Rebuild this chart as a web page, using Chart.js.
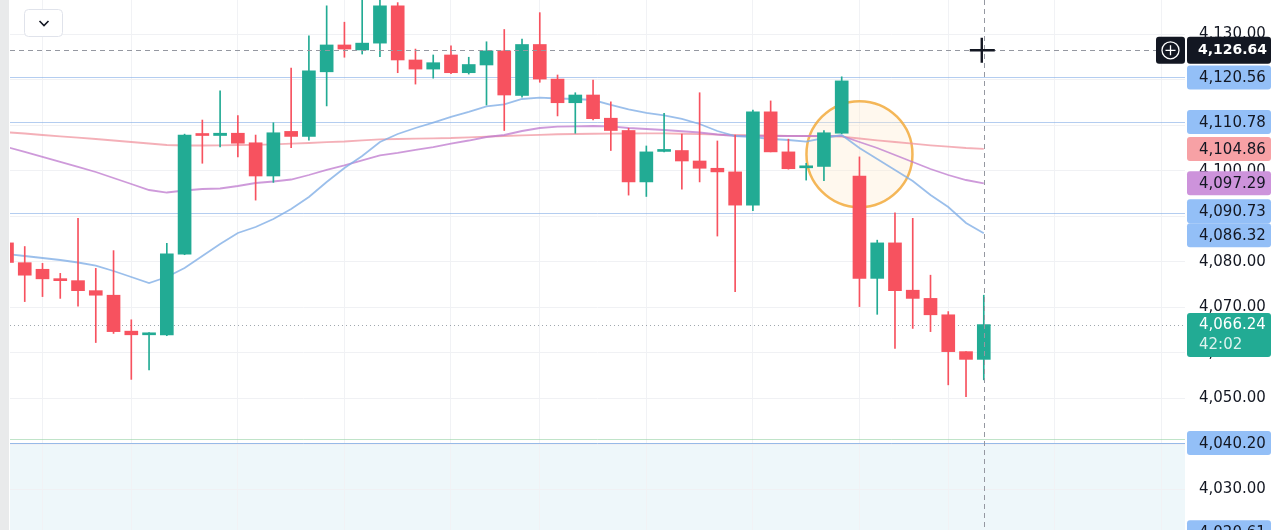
<!DOCTYPE html>
<html>
<head>
<meta charset="utf-8">
<script src="https://cdn.jsdelivr.net/npm/chart.js@4.4.1/dist/chart.umd.min.js"></script>
<style>
  html, body { margin: 0; padding: 0; background: #fff; }
  #wrap { width: 1279px; height: 530px; }
</style>
</head>
<body>
<div id="wrap"><canvas id="grafico" width="1279" height="530"></canvas></div>
<script>
// OHLC, one entry per candle (oldest first)
const opens  = [4084.2, 4079.85, 4078.4, 4076.3, 4075.9, 4073.7, 4072.7, 4064.8, 4064.0, 4064.0,
                4081.7, 4108.0, 4107.8, 4108.3, 4106.2, 4098.9, 4108.7, 4107.6, 4121.8, 4127.7,
                4126.6, 4128.1, 4136.3, 4124.4, 4122.4, 4125.5, 4121.6, 4123.3, 4126.4, 4116.6,
                4127.8, 4120.2, 4115.0, 4116.7, 4111.6, 4108.9, 4097.6, 4104.3, 4104.5, 4102.2,
                4100.6, 4099.8, 4092.5, 4113.0, 4104.2, 4100.7, 4101.0, 4108.3, 4098.9, 4076.4,
                4084.2, 4073.8, 4072.0, 4068.4, 4060.3, 4058.6];
const highs  = [4085.0, 4083.4, 4079.7, 4077.5, 4089.6, 4078.6, 4082.5, 4067.3, 4064.5, 4084.1,
                4108.1, 4111.2, 4117.6, 4112.2, 4107.9, 4110.6, 4122.6, 4129.7, 4136.3, 4132.7,
                4139.5, 4139.5, 4137.0, 4126.8, 4125.5, 4127.5, 4125.0, 4128.4, 4131.1, 4129.0,
                4134.8, 4121.1, 4117.2, 4120.0, 4115.2, 4109.4, 4105.5, 4112.7, 4108.1, 4117.2,
                4106.6, 4107.9, 4113.4, 4115.4, 4107.0, 4101.7, 4108.9, 4120.7, 4103.1, 4084.8,
                4090.8, 4089.6, 4077.1, 4069.1, 4060.3, 4072.7];
const lows   = [4079.5, 4071.3, 4072.4, 4072.0, 4070.3, 4062.3, 4064.3, 4054.2, 4056.3, 4063.8,
                4081.6, 4101.7, 4105.3, 4103.1, 4093.6, 4097.5, 4105.1, 4106.8, 4114.3, 4125.0,
                4125.7, 4125.1, 4121.6, 4119.1, 4120.4, 4121.4, 4121.3, 4114.5, 4108.9, 4116.2,
                4119.5, 4112.1, 4108.3, 4111.2, 4104.5, 4094.7, 4094.4, 4104.2, 4096.0, 4097.6,
                4085.7, 4073.5, 4091.3, 4104.2, 4100.4, 4098.0, 4097.9, 4108.2, 4070.2, 4068.5,
                4061.0, 4065.4, 4064.7, 4053.0, 4050.4, 4054.1];
const closes = [4079.9, 4077.1, 4076.3, 4075.9, 4073.7, 4072.7, 4064.7, 4064.0, 4064.2, 4081.8,
                4107.9, 4107.8, 4108.3, 4106.1, 4098.9, 4108.4, 4107.6, 4122.0, 4127.7, 4126.8,
                4128.1, 4136.3, 4124.4, 4122.4, 4123.8, 4121.6, 4123.4, 4126.4, 4116.7, 4127.8,
                4120.2, 4115.0, 4116.7, 4111.5, 4108.9, 4097.6, 4104.2, 4104.4, 4102.2, 4100.6,
                4099.8, 4092.5, 4113.0, 4104.2, 4100.5, 4101.0, 4108.4, 4119.8, 4076.4, 4084.2,
                4073.7, 4072.0, 4068.4, 4060.3, 4058.6, 4066.24];

// moving averages
const maFast = [4081.76, 4081.32, 4080.88, 4080.44, 4079.89, 4079.19, 4078.02, 4076.70, 4075.38, 4076.70,
                4078.68, 4081.32, 4083.96, 4086.37, 4087.69, 4089.45, 4091.65, 4094.29, 4097.58, 4100.66,
                4103.30, 4106.37, 4108.13, 4109.45, 4110.62, 4111.87, 4112.97, 4114.18, 4114.62, 4115.82,
                4116.11, 4115.93, 4115.82, 4115.60, 4114.51, 4113.52, 4112.75, 4112.20, 4111.43, 4110.33,
                4108.79, 4107.69, 4107.47, 4107.03, 4106.81, 4106.44, 4107.25, 4107.91, 4105.05, 4102.64,
                4100.22, 4097.80, 4094.73, 4092.09, 4088.57, 4086.32];
const maMid  = [4105.27, 4104.18, 4103.08, 4101.98, 4100.88, 4099.78, 4098.46, 4097.14, 4095.82, 4095.27,
                4095.71, 4096.04, 4096.15, 4096.70, 4097.36, 4097.69, 4098.13, 4099.12, 4100.22, 4101.21,
                4102.31, 4103.41, 4103.96, 4104.62, 4105.27, 4106.04, 4106.70, 4107.47, 4107.91, 4108.79,
                4109.45, 4109.74, 4109.82, 4109.89, 4109.82, 4109.45, 4109.23, 4109.01, 4108.73, 4108.46,
                4108.02, 4107.69, 4107.69, 4107.69, 4107.69, 4107.69, 4107.69, 4107.69, 4106.37, 4105.05,
                4103.52, 4101.98, 4100.44, 4099.12, 4098.02, 4097.29];
const maSlow = [4108.51, 4108.24, 4107.91, 4107.63, 4107.34, 4107.03, 4106.70, 4106.37, 4106.04, 4105.71,
                4105.60, 4105.60, 4105.65, 4105.71, 4105.76, 4105.87, 4106.02, 4106.15, 4106.33, 4106.48,
                4106.75, 4106.97, 4107.03, 4107.10, 4107.19, 4107.25, 4107.41, 4107.54, 4107.69, 4107.85,
                4107.96, 4108.07, 4108.13, 4108.18, 4108.22, 4108.24, 4108.26, 4108.26, 4108.18, 4108.09,
                4108.00, 4107.91, 4107.87, 4107.80, 4107.74, 4107.67, 4107.60, 4107.54, 4107.14, 4106.75,
                4106.37, 4106.00, 4105.65, 4105.34, 4105.05, 4104.86];

// horizontal levels drawn on the chart
const levelValues = [4120.56, 4110.78, 4090.73, 4041.0, 4040.20];
const levelColors = ['rgba(130,172,230,0.6)', 'rgba(130,172,230,0.6)', 'rgba(130,172,230,0.6)',
                     'rgba(150,210,165,0.6)', 'rgba(120,165,225,0.75)'];
const zoneTop = 4040.20;

// price tags on the right scale
const tagValues = [4120.56, 4110.78, 4104.86, 4097.29, 4090.73, 4086.32, 4040.20, 4020.61];
const tagColors = ['#93bff7', '#93bff7', '#f7a1a5', '#cd93db', '#93bff7', '#93bff7', '#93bff7', '#93bff7'];
const lastPrice = 4066.24;
const countdown = '42:02';
const crossPrice = 4126.64;
const crossIndex = 55;

// time grid (candle index of each vertical grid line) and price ticks
const timeGrid = [2, 7, 13, 19, 25, 30, 36, 42, 48, 53, 59, 65];
const priceTicks = [4030, 4040, 4050, 4060, 4070, 4080, 4090, 4100, 4110, 4120, 4130];

const circleAt = { index: 48, price: 4103.7 };

const up = '#22ab94';
const down = '#f7525f';
const fonte = '"DejaVu Sans", sans-serif';

const fmt = v => v.toLocaleString('en-US', { minimumFractionDigits: 2, maximumFractionDigits: 2 });

function caixa(ctx, x, y, w, h, r) {
    ctx.beginPath();
    ctx.moveTo(x + r, y);
    ctx.arcTo(x + w, y, x + w, y + h, r);
    ctx.arcTo(x + w, y + h, x, y + h, r);
    ctx.arcTo(x, y + h, x, y, r);
    ctx.arcTo(x, y, x + w, y, r);
    ctx.closePath();
}

const extras = {
    id: 'extras',
    beforeDraw(chart) {
        const { ctx, chartArea: a, scales: { y } } = chart;
        const yz = y.getPixelForValue(zoneTop);
        ctx.save();
        ctx.fillStyle = '#eef7fa';
        ctx.fillRect(a.left, yz, a.right - a.left, a.bottom - yz);
        ctx.restore();
    },
    beforeDatasetsDraw(chart) {
        const { ctx, chartArea: a, scales: { x, y } } = chart;
        ctx.save();
        ctx.lineWidth = 1;
        levelValues.forEach((v, k) => {
            const py = Math.round(y.getPixelForValue(v)) + 0.5;
            ctx.strokeStyle = levelColors[k];
            ctx.beginPath();
            ctx.moveTo(a.left, py);
            ctx.lineTo(a.right, py);
            ctx.stroke();
        });
        // last price dotted line
        const pl = Math.round(y.getPixelForValue(lastPrice)) + 0.5;
        ctx.strokeStyle = 'rgba(120,130,140,0.7)';
        ctx.setLineDash([1, 3]);
        ctx.beginPath();
        ctx.moveTo(a.left, pl);
        ctx.lineTo(a.right, pl);
        ctx.stroke();
        ctx.setLineDash([]);
        // highlighted circle
        const cx = x.getPixelForValue(circleAt.index);
        const cy = y.getPixelForValue(circleAt.price);
        ctx.beginPath();
        ctx.arc(cx, cy, 53, 0, Math.PI * 2);
        ctx.fillStyle = 'rgba(255,236,205,0.35)';
        ctx.fill();
        ctx.lineWidth = 2.5;
        ctx.strokeStyle = 'rgba(242,170,60,0.85)';
        ctx.stroke();
        ctx.restore();
    },
    afterDatasetsDraw(chart) {
        const { ctx, chartArea: a, scales: { x, y } } = chart;
        const px = Math.round(x.getPixelForValue(crossIndex)) + 0.5;
        const py = Math.round(y.getPixelForValue(crossPrice)) + 0.5;
        ctx.save();
        ctx.strokeStyle = '#9598a1';
        ctx.lineWidth = 1;
        ctx.setLineDash([5, 4]);
        ctx.beginPath();
        ctx.moveTo(a.left, py);
        ctx.lineTo(a.right, py);
        ctx.moveTo(px, a.top);
        ctx.lineTo(px, a.bottom);
        ctx.stroke();
        ctx.restore();
    },
    afterDraw(chart) {
        const { ctx, chartArea: a, scales: { x, y } } = chart;
        ctx.save();
        // left panel edge
        ctx.fillStyle = '#e9eaeb';
        ctx.fillRect(0, 0, 9, chart.height);

        // collapse button top left
        caixa(ctx, 24.5, 9.5, 38, 27, 4);
        ctx.fillStyle = '#fff';
        ctx.fill();
        ctx.strokeStyle = '#e0e3eb';
        ctx.lineWidth = 1;
        ctx.stroke();
        ctx.strokeStyle = '#131722';
        ctx.lineWidth = 1.6;
        ctx.beginPath();
        ctx.moveTo(39.5, 21);
        ctx.lineTo(44, 25.5);
        ctx.lineTo(48.5, 21);
        ctx.stroke();

        const tx = a.right + 2;
        const tw = 84;
        const textX = a.right + 14;
        ctx.font = '15px ' + fonte;
        ctx.textBaseline = 'middle';
        ctx.textAlign = 'left';

        // indicator / level tags, pushed apart when they overlap
        const h = 24;
        const tags = tagValues.map((v, k) => ({ v, c: tagColors[k], y: y.getPixelForValue(v) }))
            .sort((p, q) => p.y - q.y);
        for (let k = 1; k < tags.length; k++) {
            const over = tags[k - 1].y + h - tags[k].y;
            if (over > 0) {
                tags[k - 1].y -= over / 2;
                tags[k].y += over / 2;
            }
        }
        tags.forEach(t => {
            caixa(ctx, tx, t.y - h / 2, tw, h, 3);
            ctx.fillStyle = t.c;
            ctx.fill();
            ctx.fillStyle = '#131722';
            ctx.fillText(fmt(t.v), textX, t.y + 1);
        });

        // last price with countdown
        const ly = y.getPixelForValue(lastPrice);
        caixa(ctx, tx, ly - 11.5, tw, 44, 3);
        ctx.fillStyle = up;
        ctx.fill();
        ctx.fillStyle = '#fff';
        ctx.fillText(fmt(lastPrice), textX, ly + 1);
        ctx.fillStyle = 'rgba(255,255,255,0.85)';
        ctx.fillText(countdown, textX, ly + 21);

        // crosshair price + add button
        const cy = y.getPixelForValue(crossPrice);
        caixa(ctx, tx, cy - 13, tw, 27, 3);
        ctx.fillStyle = '#131722';
        ctx.fill();
        ctx.fillStyle = '#fff';
        ctx.font = 'bold 14px ' + fonte;
        ctx.fillText(fmt(crossPrice), textX - 1, cy + 1);
        caixa(ctx, tx - 31, cy - 13, 29, 27, 3);
        ctx.fillStyle = '#131722';
        ctx.fill();
        ctx.strokeStyle = '#fff';
        ctx.lineWidth = 1.3;
        const bx = tx - 16.5;
        ctx.beginPath();
        ctx.arc(bx, cy + 0.5, 8.5, 0, Math.PI * 2);
        ctx.moveTo(bx - 5, cy + 0.5);
        ctx.lineTo(bx + 5, cy + 0.5);
        ctx.moveTo(bx, cy - 4.5);
        ctx.lineTo(bx, cy + 5.5);
        ctx.stroke();

        // mouse cursor
        const mx = x.getPixelForValue(crossIndex) - 2;
        ctx.strokeStyle = '#131722';
        ctx.lineWidth = 2.4;
        ctx.beginPath();
        ctx.moveTo(mx, cy - 12);
        ctx.lineTo(mx, cy + 13);
        ctx.moveTo(mx - 12, cy + 0.5);
        ctx.lineTo(mx + 13, cy + 0.5);
        ctx.stroke();
        ctx.restore();
    }
};

const idx = opens.map((_, i) => i);
const cores = idx.map(i => closes[i] >= opens[i] ? up : down);
const linha = (arr, cor, ordem) => ({
    type: 'line',
    data: idx.map(i => ({ x: i, y: arr[i] })),
    borderColor: cor,
    borderWidth: 1.8,
    pointRadius: 0,
    tension: 0,
    order: ordem
});

const grafico = new Chart(document.getElementById('grafico'), {
    type: 'bar',
    data: {
        datasets: [
            {
                label: 'body',
                data: idx.map(i => ({ x: i, y: [opens[i], closes[i]] })),
                backgroundColor: cores,
                barThickness: 13,
                minBarLength: 2,
                grouped: false,
                order: 0
            },
            {
                label: 'wick',
                data: idx.map(i => ({ x: i, y: [lows[i], highs[i]] })),
                backgroundColor: cores,
                barThickness: 1,
                grouped: false,
                order: 1
            },
            linha(maFast, 'rgba(130,175,230,0.8)', 2),
            linha(maMid, 'rgba(190,120,205,0.75)', 3),
            linha(maSlow, 'rgba(240,150,160,0.75)', 4)
        ]
    },
    options: {
        responsive: false,
        animation: false,
        devicePixelRatio: 1,
        layout: { padding: { left: 10, top: 0, right: 0, bottom: 0 } },
        plugins: { legend: { display: false }, tooltip: { enabled: false } },
        scales: {
            x: {
                type: 'linear',
                min: 0.17,
                max: 66.33,
                offset: false,
                grid: { color: '#f1f2f5', drawTicks: false, offset: false },
                border: { display: false },
                ticks: { display: false },
                afterBuildTicks: s => { s.ticks = timeGrid.map(v => ({ value: v })); },
                afterFit: s => { s.height = 0; s.paddingLeft = 0; s.paddingRight = 0; }
            },
            y: {
                position: 'right',
                min: 4021.1,
                max: 4137.58,
                grid: { color: '#f0f1f4', drawTicks: false },
                border: { display: false },
                ticks: {
                    padding: 14,
                    color: '#131722',
                    font: { family: fonte, size: 15 },
                    callback: v => fmt(v)
                },
                afterBuildTicks: s => { s.ticks = priceTicks.map(v => ({ value: v })); },
                afterFit: s => { s.width = 94; s.paddingTop = 0; s.paddingBottom = 0; }
            }
        }
    },
    plugins: [extras]
});
</script>
</body>
</html>
